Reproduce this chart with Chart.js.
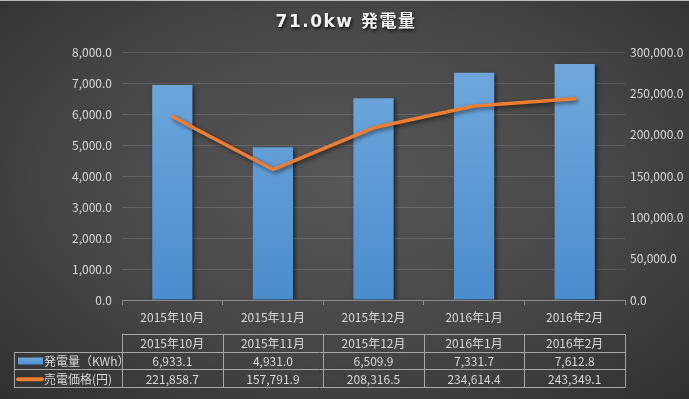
<!DOCTYPE html>
<html lang="ja">
<head>
<meta charset="utf-8">
<title>71.0kw 発電量</title>
<script src="https://cdn.jsdelivr.net/npm/chart.js"></script>
<style>
  html, body { margin: 0; padding: 0; }
  body {
    width: 689px; height: 399px; overflow: hidden;
    background: radial-gradient(ellipse 80% 85% at 50% 45%, #575757 0%, #464646 50%, #2a2a2a 100%);
  }
  #wrap { position: relative; width: 689px; height: 399px; }
  canvas { display: block; }
</style>
</head>
<body>
<div id="wrap"><canvas id="grafico" width="689" height="399"></canvas></div>
<script>
const months = ['2015年10月', '2015年11月', '2015年12月', '2016年1月', '2016年2月'];
const generation = [6933.1, 4931.0, 6509.9, 7331.7, 7612.8];
const sales = [221858.7, 157791.9, 208316.5, 234614.4, 243349.1];
const leftTicks = [0, 1000, 2000, 3000, 4000, 5000, 6000, 7000, 8000];
const rightTicks = [0, 50000, 100000, 150000, 200000, 250000, 300000];
const seriesNames = ['発電量（KWh）', '売電価格(円)'];
const chartTitle = '71.0kw 発電量';

const FONT = '"Liberation Sans Narrow", "Noto Sans CJK JP", sans-serif';
const TEXT = '#d9d9d9';

function fmt(v) {
    return v.toLocaleString('en-US', { minimumFractionDigits: 1, maximumFractionDigits: 1 });
}

// shadow under bars and line
const shadowPlugin = {
    id: 'shadow',
    beforeDatasetDraw(chart) {
        const ctx = chart.ctx;
        ctx.save();
        ctx.shadowColor = 'rgba(0,0,0,0.55)';
        ctx.shadowBlur = 4;
        ctx.shadowOffsetX = 2;
        ctx.shadowOffsetY = 2;
    },
    afterDatasetDraw(chart) {
        chart.ctx.restore();
    }
};

// title + data table under the x axis
const tablePlugin = {
    id: 'dataTable',
    afterDraw(chart) {
        const ctx = chart.ctx;
        const area = chart.chartArea;
        const x = chart.scales.x;

        ctx.save();
        ctx.fillStyle = 'rgba(220,220,220,0.8)';
        ctx.fillRect(0, 0, chart.width, 1);

        ctx.shadowColor = 'rgba(0,0,0,0.75)';
        ctx.shadowBlur = 3;
        ctx.shadowOffsetX = 1;
        ctx.shadowOffsetY = 2;
        ctx.fillStyle = '#f2f2f2';
        ctx.font = 'bold 17px "DejaVu Sans", "Noto Sans CJK JP", sans-serif';
        ctx.letterSpacing = '1.5px';
        ctx.textAlign = 'center';
        ctx.textBaseline = 'middle';
        ctx.fillText(chartTitle, 346, 23);
        ctx.restore();

        const top = area.bottom + 34;
        const rowH = 17.7;
        const legendLeft = 14;
        const edges = [area.left];
        for (let i = 0; i < months.length - 1; i++) {
            edges.push((x.getPixelForValue(i) + x.getPixelForValue(i + 1)) / 2);
        }
        edges.push(area.right);

        ctx.save();
        ctx.strokeStyle = '#a6a6a6';
        ctx.lineWidth = 1;
        ctx.beginPath();
        // horizontal lines
        ctx.moveTo(area.left, top + 0.5); ctx.lineTo(area.right, top + 0.5);
        for (let r = 1; r <= 3; r++) {
            const yy = Math.round(top + rowH * r) + 0.5;
            ctx.moveTo(legendLeft, yy); ctx.lineTo(area.right, yy);
        }
        // vertical lines
        const bottom = Math.round(top + rowH * 3) + 0.5;
        ctx.moveTo(legendLeft + 0.5, Math.round(top + rowH) + 0.5); ctx.lineTo(legendLeft + 0.5, bottom);
        edges.forEach(e => {
            const xx = Math.round(e) + 0.5;
            ctx.moveTo(xx, top + 0.5); ctx.lineTo(xx, bottom);
        });
        ctx.stroke();

        ctx.font = '12px ' + FONT;
        ctx.fillStyle = TEXT;
        ctx.textAlign = 'center';
        ctx.textBaseline = 'middle';
        months.forEach((m, i) => {
            const cx = x.getPixelForValue(i);
            ctx.fillText(m, cx, top + rowH * 0.5 + 1);
            ctx.fillText(fmt(generation[i]), cx, top + rowH * 1.5 + 1);
            ctx.fillText(fmt(sales[i]), cx, top + rowH * 2.5 + 1);
        });

        // legend keys
        const y1 = top + rowH * 1.5;
        const y2 = top + rowH * 2.5;
        const g = ctx.createLinearGradient(0, y1 - 3, 0, y1 + 4);
        g.addColorStop(0, '#6fa8dc');
        g.addColorStop(1, '#4a8fd0');
        ctx.fillStyle = g;
        ctx.fillRect(18, y1 - 3, 25, 7);
        ctx.strokeStyle = '#ed7d31';
        ctx.lineWidth = 4;
        ctx.lineCap = 'round';
        ctx.beginPath();
        ctx.moveTo(18, y2 + 1); ctx.lineTo(42, y2 + 1);
        ctx.stroke();

        ctx.fillStyle = TEXT;
        ctx.textAlign = 'left';
        ctx.font = '12px "Noto Sans CJK JP", sans-serif';
        ctx.fillText(seriesNames[0], 44, y1 + 1);
        ctx.fillText(seriesNames[1], 44, y2 + 1);
        ctx.restore();
    }
};

const ctx = document.getElementById('grafico').getContext('2d');
new Chart(ctx, {
    data: {
        labels: months,
        datasets: [
            {
                type: 'line',
                label: seriesNames[1],
                data: sales,
                yAxisID: 'y1',
                borderColor: '#ed7d31',
                borderWidth: 3.5,
                borderCapStyle: 'round',
                borderJoinStyle: 'round',
                pointRadius: 0,
                tension: 0,
                order: 0
            },
            {
                type: 'bar',
                label: seriesNames[0],
                data: generation,
                yAxisID: 'y',
                backgroundColor: function(context) {
                    const area = context.chart.chartArea;
                    if (!area) return '#5b9bd5';
                    const g = context.chart.ctx.createLinearGradient(0, area.top, 0, area.bottom);
                    g.addColorStop(0, '#72a9de');
                    g.addColorStop(1, '#4a8dcd');
                    return g;
                },
                borderWidth: 0,
                categoryPercentage: 1,
                barPercentage: 0.4,
                order: 1
            }
        ]
    },
    options: {
        responsive: false,
        animation: false,
        devicePixelRatio: 1,
        layout: { padding: { top: 52, left: 0, right: 0, bottom: 0 } },
        plugins: {
            legend: { display: false },
            title: { display: false },
            tooltip: { enabled: false }
        },
        scales: {
            x: {
                offset: true,
                grid: {
                    offset: true,
                    drawOnChartArea: false,
                    drawTicks: true,
                    tickLength: 5,
                    color: '#8c8c8c'
                },
                border: { color: '#8c8c8c' },
                ticks: { color: TEXT, font: { size: 12, family: FONT }, padding: 5, maxRotation: 0 },
                afterFit: function(scale) { scale.height = 99; }
            },
            y: {
                position: 'left',
                min: leftTicks[0],
                max: leftTicks[leftTicks.length - 1],
                afterBuildTicks: function(scale) { scale.ticks = leftTicks.map(v => ({ value: v })); },
                grid: { color: 'rgba(255,255,255,0.13)', drawTicks: false },
                border: { display: false },
                ticks: { color: TEXT, font: { size: 12, family: FONT }, padding: 10, callback: v => fmt(v) },
                afterFit: function(scale) { scale.width = 122; }
            },
            y1: {
                position: 'right',
                min: rightTicks[0],
                max: rightTicks[rightTicks.length - 1],
                afterBuildTicks: function(scale) { scale.ticks = rightTicks.map(v => ({ value: v })); },
                grid: { display: false, drawTicks: false },
                border: { display: false },
                ticks: { color: TEXT, font: { size: 12, family: FONT }, padding: 5, callback: v => fmt(v) },
                afterFit: function(scale) { scale.width = 64; }
            }
        }
    },
    plugins: [shadowPlugin, tablePlugin]
});
</script>
</body>
</html>
